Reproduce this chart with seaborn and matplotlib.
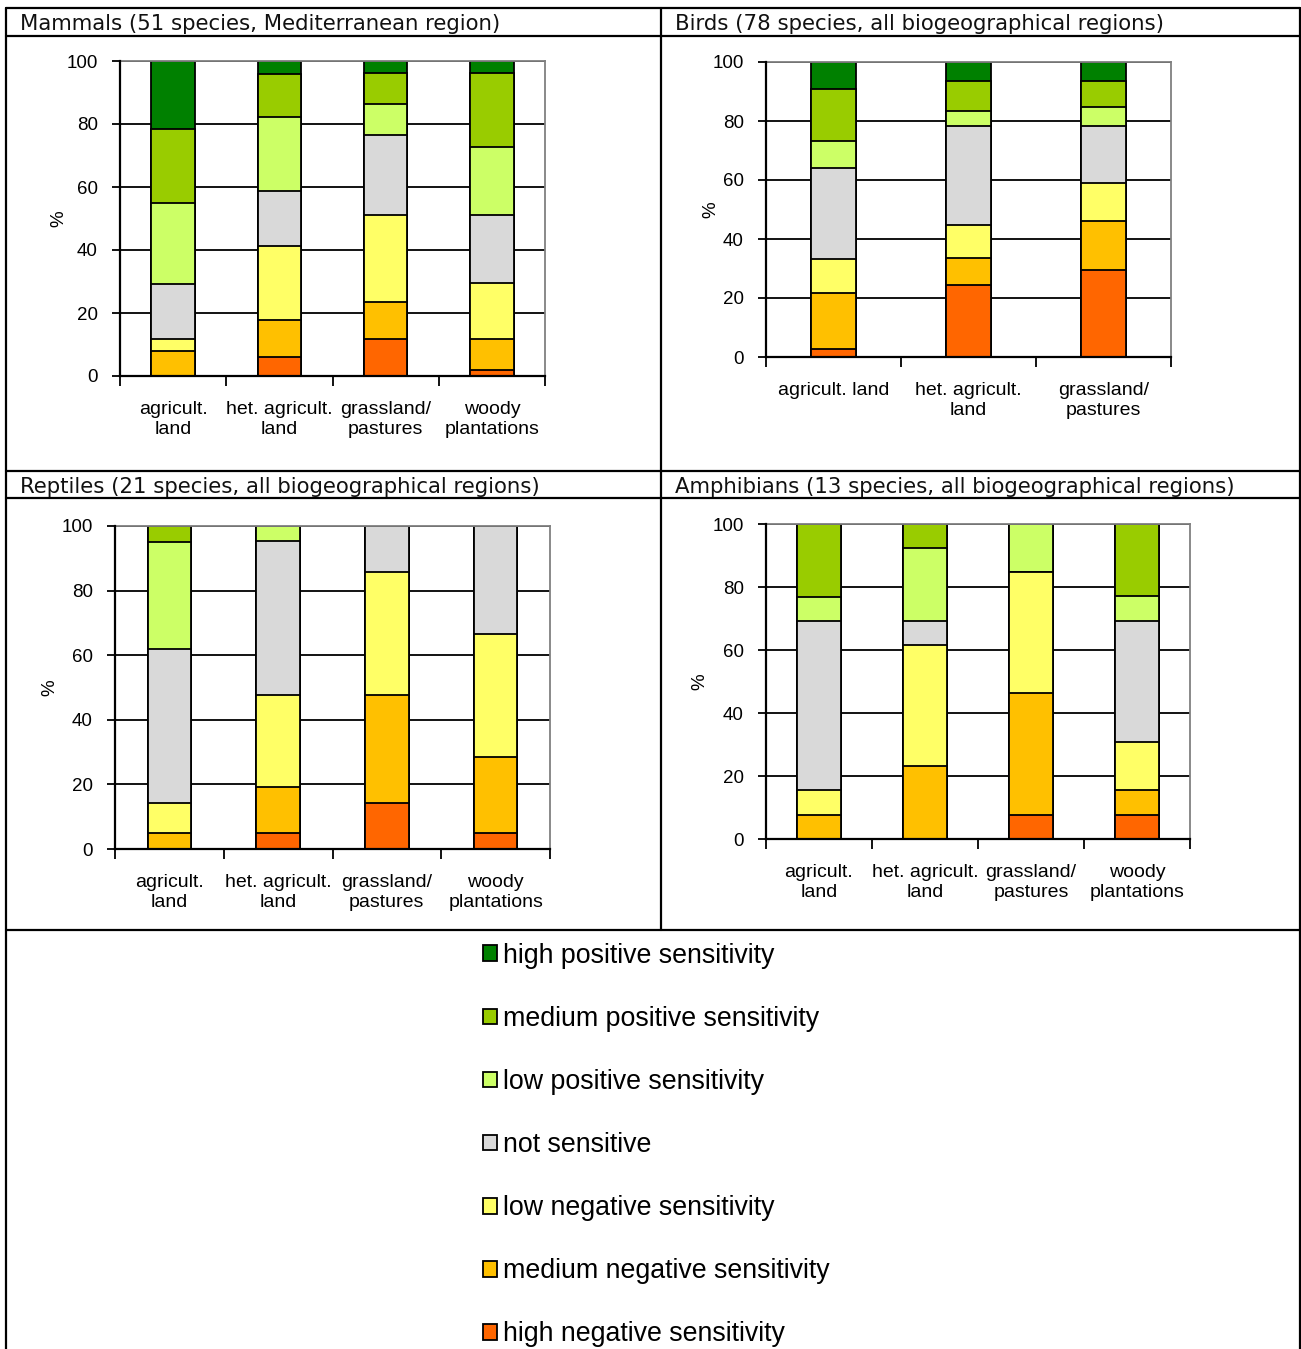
import matplotlib.pyplot as plt
import seaborn as sns
import pandas as pd
from matplotlib.lines import Line2D
from matplotlib.patches import Patch

# sensitivity classes, bottom of the stack to the top
levels = ["high negative sensitivity", "medium negative sensitivity",
          "low negative sensitivity", "not sensitive",
          "low positive sensitivity", "medium positive sensitivity",
          "high positive sensitivity"]
colors = ["#FF6600", "#FFC000", "#FFFF66", "#D9D9D9",
          "#CCFF66", "#99CC00", "#008000"]

four_cats = ["agricult.\nland", "het. agricult.\nland",
             "grassland/\npastures", "woody\nplantations"]
bird_cats = ["agricult. land", "het. agricult.\nland", "grassland/\npastures"]

# % of species per land use, same order as levels
mammal_agri = [0, 7.8, 3.9, 17.6, 25.5, 23.5, 21.6]
mammal_het = [5.9, 11.8, 23.5, 17.6, 23.5, 13.7, 3.9]
mammal_grass = [11.8, 11.8, 27.5, 25.5, 9.8, 9.8, 3.9]
mammal_woody = [2.0, 9.8, 17.6, 21.6, 21.6, 23.5, 3.9]

bird_agri = [2.6, 19.2, 11.5, 30.8, 9.0, 17.9, 9.0]
bird_het = [24.4, 9.0, 11.5, 33.3, 5.1, 10.3, 6.4]
bird_grass = [29.5, 16.7, 12.8, 19.2, 6.4, 9.0, 6.4]

reptile_agri = [0, 4.8, 9.5, 47.6, 33.3, 4.8, 0]
reptile_het = [4.8, 14.3, 28.6, 47.6, 4.8, 0, 0]
reptile_grass = [14.3, 33.3, 38.1, 14.3, 0, 0, 0]
reptile_woody = [4.8, 23.8, 38.1, 33.3, 0, 0, 0]

amph_agri = [0, 7.7, 7.7, 53.8, 7.7, 23.1, 0]
amph_het = [0, 23.1, 38.5, 7.7, 23.1, 7.7, 0]
amph_grass = [7.7, 38.5, 38.5, 0, 15.4, 0, 0]
amph_woody = [7.7, 7.7, 15.4, 38.5, 7.7, 23.1, 0]

sns.set_theme(style="white")
plt.rcParams['font.family'] = ['Liberation Sans', 'DejaVu Sans']
plt.rcParams['text.color'] = 'black'
plt.rcParams['axes.labelcolor'] = 'black'
plt.rcParams['xtick.labelcolor'] = 'black'
plt.rcParams['ytick.labelcolor'] = 'black'

W, H = 1301, 1349
fig = plt.figure(figsize=(W / 100, H / 100), dpi=100)


def px_axes(l, t, r, b):
    return fig.add_axes([l / W, 1 - b / H, (r - l) / W, (b - t) / H])


def stacked(ax, cats, rows, width):
    recs = []
    for cat, vals in zip(cats, rows):
        for lv, v in zip(levels, vals):
            recs.append({"land": cat, "level": lv, "pct": v})
    df = pd.DataFrame(recs)
    df["cum"] = df.groupby("land")["pct"].cumsum()
    # draw cumulative bars from the top class down so lower ones sit in front
    for lv, col in reversed(list(zip(levels, colors))):
        sub = df[df["level"] == lv]
        sns.barplot(data=sub, x="land", y="cum", order=cats, color=col,
                    saturation=1, width=width, edgecolor="black",
                    linewidth=1.3, errorbar=None, ax=ax)
    n = len(cats)
    ax.set_xlim(-0.5, n - 0.5)
    ax.set_ylim(0, 100)
    ax.set_yticks([0, 20, 40, 60, 80, 100])
    ax.yaxis.grid(True, color="black", linewidth=1.3)
    ax.set_axisbelow(True)
    ax.set_xlabel("")
    ax.set_ylabel("%", fontsize=13.5)
    ax.set_xticks(range(n))
    ax.set_xticklabels(cats, fontsize=14, linespacing=1.25)
    ax.set_xticks([i - 0.5 for i in range(n + 1)], minor=True)
    ax.tick_params(axis="x", which="major", length=0, pad=18)
    ax.tick_params(axis="x", which="minor", direction="out", length=7,
                   width=1.3, color="black", bottom=True)
    ax.tick_params(axis="y", direction="out", length=6, width=1.3,
                   color="black", left=True, labelsize=13.5, pad=10)
    for s in ["top", "right"]:
        ax.spines[s].set_color("#808080")
        ax.spines[s].set_linewidth(1.3)
    for s in ["left", "bottom"]:
        ax.spines[s].set_color("black")
        ax.spines[s].set_linewidth(1.6)
        ax.spines[s].set_zorder(5)


ax1 = px_axes(120, 61, 545, 376)
stacked(ax1, four_cats, [mammal_agri, mammal_het, mammal_grass, mammal_woody], 0.41)
ax1.yaxis.set_label_coords(-0.125, 0.5)

ax2 = px_axes(766, 62, 1171, 357)
stacked(ax2, bird_cats, [bird_agri, bird_het, bird_grass], 0.34)
ax2.yaxis.set_label_coords(-0.115, 0.5)

ax3 = px_axes(115, 526, 550, 849)
stacked(ax3, four_cats, [reptile_agri, reptile_het, reptile_grass, reptile_woody], 0.4)
ax3.yaxis.set_label_coords(-0.13, 0.5)

ax4 = px_axes(766, 524, 1190, 839)
stacked(ax4, four_cats, [amph_agri, amph_het, amph_grass, amph_woody], 0.41)
ax4.yaxis.set_label_coords(-0.135, 0.5)

# table frame around the panels
def hline(y, x0=6, x1=1300):
    fig.add_artist(Line2D([x0 / W, x1 / W], [1 - y / H, 1 - y / H],
                          color="black", linewidth=1.6))


def vline(x, y0, y1):
    fig.add_artist(Line2D([x / W, x / W], [1 - y0 / H, 1 - y1 / H],
                          color="black", linewidth=1.6))


for y in [8, 36, 471, 498, 930]:
    hline(y)
vline(6, 8, 1349)
vline(1300, 8, 1349)
vline(661, 8, 930)

title_kw = dict(fontsize=15.3, family="DejaVu Sans", va="center", ha="left",
                color="#111111")
fig.text(20 / W, 1 - 24 / H, "Mammals (51 species, Mediterranean region)", **title_kw)
fig.text(675 / W, 1 - 24 / H, "Birds (78 species, all biogeographical regions)", **title_kw)
fig.text(20 / W, 1 - 487 / H, "Reptiles (21 species, all biogeographical regions)", **title_kw)
fig.text(675 / W, 1 - 487 / H, "Amphibians (13 species, all biogeographical regions)", **title_kw)

handles = [Patch(facecolor=c, edgecolor="black", linewidth=1.3, label=l)
           for l, c in zip(levels, colors)][::-1]
fig.legend(handles=handles, loc="upper left",
           bbox_to_anchor=(472 / W, 1 - 932 / H), frameon=False,
           fontsize=19.3, handlelength=0.52, handleheight=0.52,
           handletextpad=0.22, labelspacing=1.385, borderaxespad=0)

fig.savefig("out.png", dpi=100)
